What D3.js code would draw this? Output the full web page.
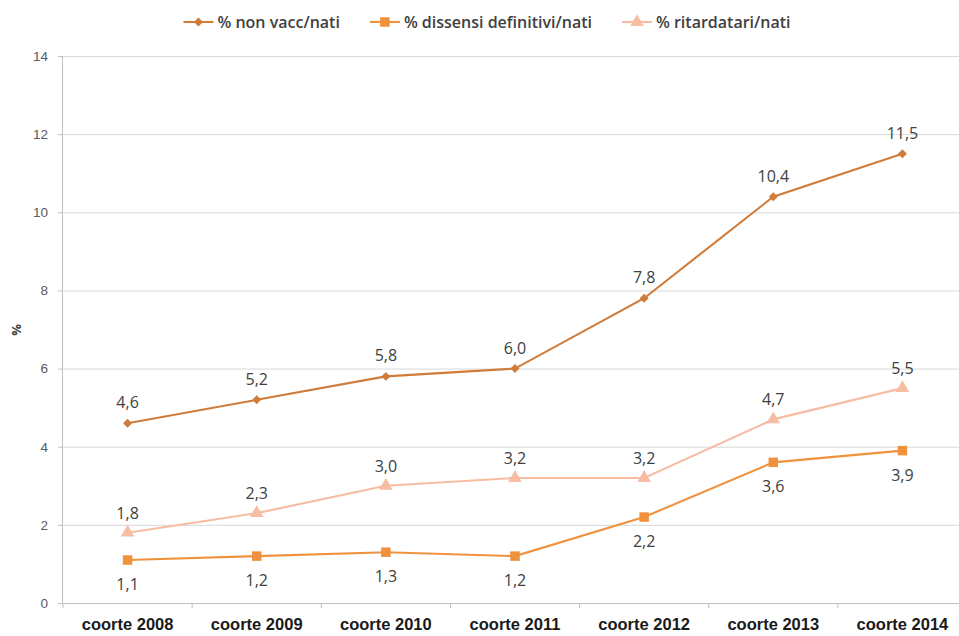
<!DOCTYPE html>
<html><head><meta charset="utf-8">
<script src="https://cdn.jsdelivr.net/npm/d3@7"></script>
<style>body{margin:0;background:#fff;} svg{display:block;font-family:"Open Sans","Liberation Sans",sans-serif;}</style>
</head><body><svg id="c" width="959" height="636"></svg>
<script>
const categories = ["coorte 2008","coorte 2009","coorte 2010","coorte 2011","coorte 2012","coorte 2013","coorte 2014"];
const nonVacc = [4.6, 5.2, 5.8, 6.0, 7.8, 10.4, 11.5];
const dissensi = [1.1, 1.2, 1.3, 1.2, 2.2, 3.6, 3.9];
const ritardatari = [1.8, 2.3, 3.0, 3.2, 3.2, 4.7, 5.5];
const yTicks = [0, 2, 4, 6, 8, 10, 12, 14];
const seriesNames = ["% non vacc/nati", "% dissensi definitivi/nati", "% ritardatari/nati"];

(function(){
const svg = d3.select("#c");
const pL = 63, pR = 967, pT = 56, pB = 603;
const x = d3.scaleBand().domain(categories).range([pL, pR]).padding(0);
const y = d3.scaleLinear().domain([0, 14]).range([pB, pT]);
const cx = c => x(c) + x.bandwidth() / 2;

// gridlines
svg.append("g").selectAll("line").data(yTicks.filter(d => d > 0)).join("line")
  .attr("x1", pL).attr("x2", 959).attr("y1", d => y(d) + 0.5).attr("y2", d => y(d) + 0.5)
  .attr("stroke", "#d9d9d9").attr("stroke-width", 1);

// y axis
const ya = svg.append("g").attr("transform", `translate(${pL},0)`)
  .call(d3.axisLeft(y).tickValues(yTicks).tickSize(5).tickPadding(10).tickFormat(d3.format("d")));
ya.select(".domain").attr("stroke", "#bfbfbf").attr("d", `M-0.5,${pT}V${pB}`);
ya.selectAll(".tick line").attr("stroke", "#bfbfbf");
ya.selectAll("text").attr("fill", "#595959").attr("font-size", 13.5);

// x axis
const xa = svg.append("g").attr("transform", `translate(0,${pB})`)
  .call(d3.axisBottom(x).tickSize(0).tickPadding(15));
xa.select(".domain").attr("stroke", "#bfbfbf").attr("d", `M${pL},0.5H959`);
xa.selectAll("text").attr("fill", "#1a1a1a").attr("font-size", 16.5).attr("font-weight", 600);
svg.append("g").selectAll("line").data(categories.map(c => x(c)).concat([pR])).join("line")
  .attr("x1", d => d).attr("x2", d => d).attr("y1", pB).attr("y2", pB + 5)
  .attr("stroke", "#bfbfbf");

// y title
svg.append("text").attr("transform", "translate(21,330) rotate(-90)")
  .attr("text-anchor", "middle").attr("font-size", 13).attr("font-weight", "bold").attr("fill", "#404040").text("%");

const series = [
  {name: seriesNames[0], values: nonVacc, color: "#cf7b3a", marker: d3.symbolSquare, rot: 45, size: 40, dy: -15},
  {name: seriesNames[1], values: dissensi, color: "#f0913d", marker: d3.symbolSquare, rot: 0, size: 90, dy: 30},
  {name: seriesNames[2], values: ritardatari, color: "#f6bda3", marker: d3.symbolTriangle, rot: 0, size: 80, dy: -14}
];
const line = d3.line().x((d, i) => cx(categories[i])).y(d => y(d));
const fmt = v => d3.format(".1f")(v).replace(".", ",");

series.forEach(s => {
  svg.append("path").datum(s.values).attr("d", line).attr("fill", "none")
    .attr("stroke", s.color).attr("stroke-width", 2.1);
  svg.append("g").selectAll("path").data(s.values).join("path")
    .attr("transform", (d, i) => `translate(${cx(categories[i])},${y(d)}) rotate(${s.rot})`)
    .attr("d", d3.symbol().type(s.marker).size(s.size)).attr("fill", s.color);
  svg.append("g").selectAll("text").data(s.values).join("text")
    .attr("x", (d, i) => cx(categories[i])).attr("y", d => y(d) + s.dy)
    .attr("text-anchor", "middle").attr("font-size", 16).attr("fill", "#404040")
    .text(d => fmt(d));
});

// legend
const lg = svg.append("g");
series.forEach((s, i) => {
  const g = lg.append("g");
  g.append("line").attr("x1", 0).attr("x2", 30).attr("stroke", s.color).attr("stroke-width", 2.1);
  g.append("path").attr("transform", `translate(15,0) rotate(${s.rot})`).attr("d", d3.symbol().type(s.marker).size(s.size)).attr("fill", s.color);
  g.append("text").attr("x", 34).attr("y", 5.5).attr("font-size", 16).attr("font-weight", 600).attr("fill", "#404040").text(s.name);
});
const items = lg.selectAll("g").nodes();
const widths = items.map(n => n.getBBox().width);
const gap = 30;
const total = widths.reduce((a,b)=>a+b,0) + gap*(widths.length-1);
let start = 487 - total/2;
items.forEach((n,i) => { d3.select(n).attr("transform", `translate(${start},22)`); start += widths[i] + gap; });
})();
</script></body></html>
